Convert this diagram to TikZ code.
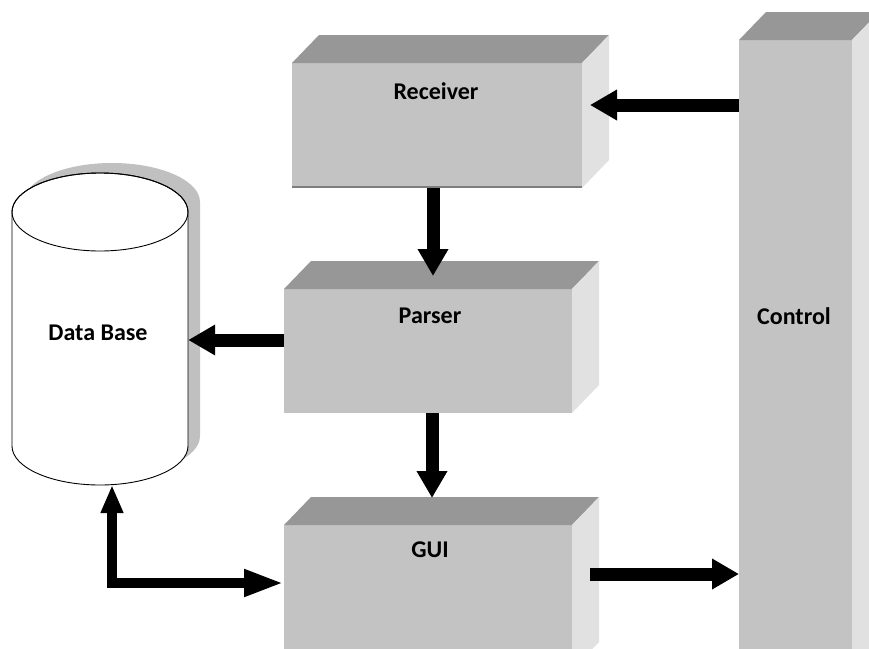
\documentclass[tikz,border=0pt]{standalone}
\usepackage{fontspec}
\setmainfont{Carlito}
\usetikzlibrary{arrows.meta,fit}

\definecolor{frontgray}{HTML}{C3C3C3}
\definecolor{topgray}{HTML}{979797}
\definecolor{sidegray}{HTML}{E1E1E1}
\definecolor{shadowgray}{HTML}{C0C0C0}
\definecolor{edgegray}{HTML}{7E7E7E}

% Raised block: front face as a named node, top and side faces drawn from its anchors
% #1 name, #2 left, #3 top, #4 right, #5 bottom
\newcommand\raisedblock[5]{%
  \node[frontface, fit={(#2,#3) (#4,#5)}] (#1) {};
  \fill[topgray] (#1.north west) -- ++(27,-28) -- ([shift={(27,-28)}]#1.north east)
    -- (#1.north east) -- cycle;
  \fill[sidegray] (#1.north east) -- ++(27,-28) -- ([shift={(27,-28)}]#1.south east)
    -- (#1.south east) -- cycle;
}

\tikzset{
  frontface/.style={fill=frontgray, draw=none, inner sep=0pt, outer sep=0pt},
  caption/.style={font=\bfseries\fontsize{24}{28}\selectfont, text=black, inner sep=0pt},
  fatarrow/.style={line width=13pt, -{Triangle[length=27pt,width=29pt]}},
  elbowarrow/.style={line width=10pt, line join=miter,
    {Triangle[length=28pt,width=21pt]}-{Triangle[length=40pt,width=25pt]}},
}

\begin{document}
\begin{tikzpicture}[x=1pt,y=-1pt]
  \clip (0,0) rectangle (869,648);
  \fill[white] (0,0) rectangle (869,648);

  % blocks
  \raisedblock{receiver}{292}{63}{582}{188}
  \draw[edgegray, line width=2pt] ([yshift=1pt]receiver.south west) -- ([yshift=1pt]receiver.south east);
  \raisedblock{parser}{284}{289}{572}{413}
  \raisedblock{gui}{284}{525}{572}{670}
  \raisedblock{control}{739}{40}{852}{670}

  \node[caption] (receivertext) at (436,91) {Receiver};
  \node[caption] (parsertext) at (430,316) {Parser};
  \node[caption] (guitext) at (430,550) {GUI};
  \node[caption] (controltext) at (794,316) {Control};

  % database cylinder with its offset shadow
  \fill[shadowgray, shift={(12,-10)}] (12,212) -- (12,446)
    arc[start angle=180, end angle=360, x radius=88pt, y radius=39pt]
    -- (188,212) arc[start angle=0, end angle=180, x radius=88pt, y radius=39pt] -- cycle;
  \filldraw[fill=white, draw=black, line width=0.9pt] (12,212) -- (12,446)
    arc[start angle=180, end angle=360, x radius=88pt, y radius=39pt]
    -- (188,212) arc[start angle=0, end angle=180, x radius=88pt, y radius=39pt] -- cycle;
  \draw[black, line width=0.9pt] (100,212) ellipse[x radius=88pt, y radius=39pt];
  \node[fit={(12,173) (188,485)}, inner sep=0pt] (db) {};
  \node[caption] (dbtext) at (98,333) {Data Base};

  % connectors
  \coordinate (dbfoot) at (112,485);
  \draw[fatarrow] (control.west |- 0,105) -- ([xshift=8pt]receiver.east |- 0,105);
  \draw[fatarrow] ([xshift=-4pt]receiver.south) -- ([xshift=5pt,yshift=13pt]parser.north);
  \draw[fatarrow] (parser.west |- 0,340) -- (db.east |- 0,340);
  \draw[fatarrow] ([xshift=4pt]parser.south) -- ([xshift=4pt,yshift=27pt]gui.north);
  \draw[fatarrow] ([xshift=18pt]gui.east |- 0,574) -- (control.west |- 0,574);
  \draw[elbowarrow] (dbfoot) |- (gui.west |- 0,583);
\end{tikzpicture}
\end{document}
